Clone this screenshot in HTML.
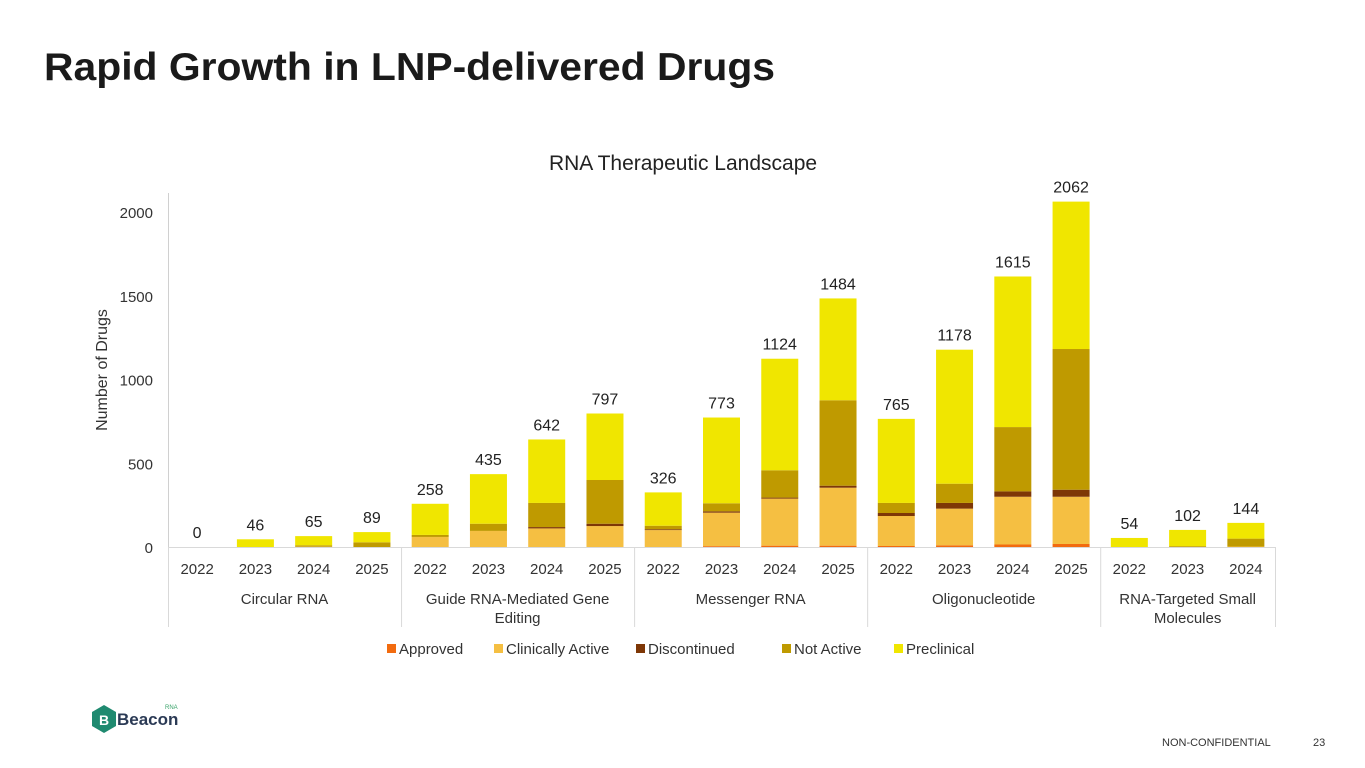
<!DOCTYPE html>
<html><head><meta charset="utf-8"><style>
body{margin:0;width:1365px;height:768px;background:#fff;overflow:hidden;font-family:"Liberation Sans",sans-serif}
svg{display:block}
</style></head><body>
<svg id="chart" width="1365" height="768">
<text x="44" y="80" font-size="39" font-weight="bold" fill="#1a1a1a" textLength="731" lengthAdjust="spacingAndGlyphs">Rapid Growth in LNP-delivered Drugs</text>
<text x="683" y="170" text-anchor="middle" font-size="21" fill="#222">RNA Therapeutic Landscape</text>
<text transform="translate(107,370) rotate(-90)" text-anchor="middle" font-size="16" fill="#333">Number of Drugs</text>
<line x1="168.5" y1="193" x2="168.5" y2="547" stroke="#d0d0d0"/>
<g id="ticks"></g><g id="bars"></g><g id="xaxis"></g>
<g id="legend"></g>
<g>
<polygon points="104,705 116,712 116,726 104,733 92,726 92,712" fill="#1f8a70"/>
<text x="104" y="725" text-anchor="middle" font-size="14" font-weight="bold" fill="#fff">B</text>
<text x="117" y="725" font-size="17" font-weight="bold" fill="#2b3a55">Beacon</text>
<text x="165" y="709" font-size="6" fill="#3aa36a">RNA</text>
</g>
<text x="1162" y="746" font-size="11" fill="#333">NON-CONFIDENTIAL</text>
<text x="1313" y="746" font-size="11" fill="#333">23</text>
</svg>
<script>
const groups=["Circular RNA","Guide RNA-Mediated Gene|Editing","Messenger RNA","Oligonucleotide","RNA-Targeted Small|Molecules"];
const groupYears=[["2022","2023","2024","2025"],["2022","2023","2024","2025"],["2022","2023","2024","2025"],["2022","2023","2024","2025"],["2022","2023","2024"]];
const seriesNames=["Approved","Clinically Active","Discontinued","Not Active","Preclinical"];
const totals=[0,46,65,89,258,435,642,797,326,773,1124,1484,765,1178,1615,2062,54,102,144];
const approved=[0,0,0,0,0,0,0,0,0,5,8,8,6,10,15,18,0,0,0];
const clinicallyActive=[0,0,2,0,60,96,111,125,101,200,281,346,179,219,285,282,0,0,3];
const discontinued=[0,0,0,0,0,0,8,14,5,8,6,12,18,34,32,42,0,0,0];
const notActive=[0,0,8,28,12,43,144,261,21,48,163,510,60,115,384,840,0,5,47];
const yTicks=[0,500,1000,1500,2000];
const colors=["#f26b0f","#f5bf42","#7e3706","#bf9a00","#f0e600"];
const preclinical=totals.map((t,i)=>t-approved[i]-clinicallyActive[i]-discontinued[i]-notActive[i]);
const series=[approved,clinicallyActive,discontinued,notActive,preclinical];
const NS="http://www.w3.org/2000/svg";
const x0=168,x1=1275,yBase=547,yTop=212,yMax=2000;
const n=totals.length,step=(x1-x0)/n,bw=37;
const y=v=>yBase-(v/yMax)*(yBase-yTop);
const cx=i=>x0+step*(i+0.5);
function mk(tag,attrs,parent,txt){const e=document.createElementNS(NS,tag);for(const k in attrs)e.setAttribute(k,attrs[k]);if(txt!==undefined)e.textContent=txt;parent.appendChild(e);return e;}
const tg=document.getElementById('ticks');
yTicks.forEach(t=>{const e=mk('text',{x:153,y:y(t)+6,'text-anchor':'end','font-size':15,fill:'#333'},tg,String(t));

});
const bg=document.getElementById('bars');
for(let i=0;i<n;i++){let acc=0;
series.forEach((s,k)=>{const v=s[i];if(v<=0)return;
const r=mk('rect',{x:cx(i)-bw/2,y:y(acc+v),width:bw,height:y(acc)-y(acc+v),fill:colors[k]},bg);


acc+=v;});
const lb=mk('text',{x:cx(i),y:y(totals[i])-9,'text-anchor':'middle','font-size':16,fill:'#222'},bg,String(totals[i]));

}
const xg=document.getElementById('xaxis');
const bl=mk('line',{x1:x0,y1:547.5,x2:x1,y2:547.5,stroke:'#d9d9d9'},xg);


let idx=0;
groups.forEach((g,gi)=>{const start=idx;
groupYears[gi].forEach(yr=>{const t=mk('text',{x:cx(idx),y:574,'text-anchor':'middle','font-size':15,fill:'#333'},xg,yr);

idx++;});
const sx=x0+step*start;
const sep=mk('line',{x1:sx+0.5,y1:547,x2:sx+0.5,y2:627,stroke:'#d9d9d9'},xg);


const mid=(x0+step*start+x0+step*idx)/2;
g.split('|').forEach((ln,li)=>{const t=mk('text',{x:mid,y:604+li*19,'text-anchor':'middle','font-size':15,fill:'#333'},xg,ln);

});});
const endSep=mk('line',{x1:x1+0.5,y1:547,x2:x1+0.5,y2:627,stroke:'#d9d9d9'},xg);


const lg=document.getElementById('legend');
const lx=[387,494,636,782,894];
seriesNames.forEach((s,k)=>{const r=mk('rect',{x:lx[k],y:644,width:9,height:9,fill:colors[k]},lg);


const t=mk('text',{x:lx[k]+12,y:654,'font-size':15,fill:'#333'},lg,s);

});
</script>
</body></html>
